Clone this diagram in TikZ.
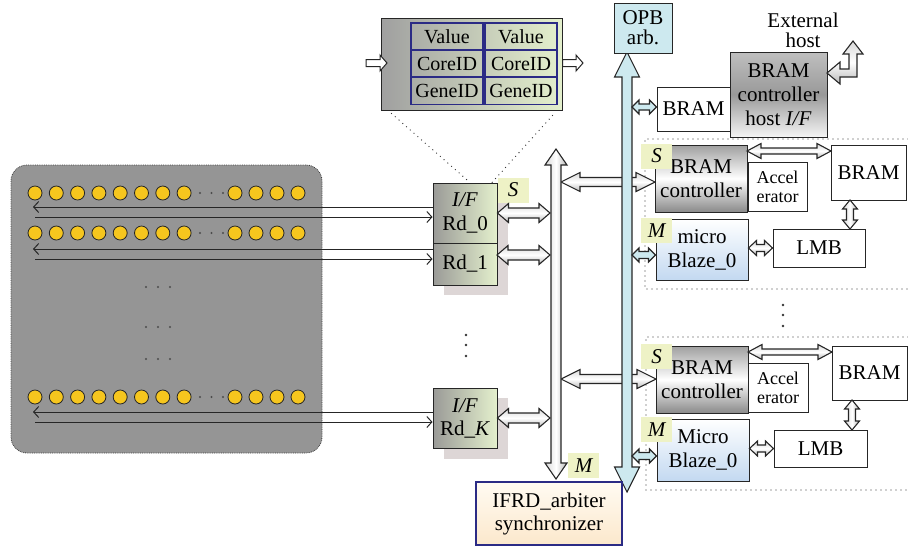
\documentclass[tikz,border=0pt]{standalone}
\usepackage{fontspec}
\setmainfont{Liberation Serif}
\usetikzlibrary{calc,arrows.meta}

\definecolor{beadc}{HTML}{F6C61E}
\definecolor{panelc}{HTML}{959595}
\definecolor{opbc}{HTML}{CDE9EF}
\definecolor{tagc}{HTML}{EEF2C6}
\definecolor{shadowc}{HTML}{DDD6D6}
\definecolor{ifgray}{HTML}{9A9A97}
\definecolor{ifgreen}{HTML}{E4F0CD}
\definecolor{cellblue}{HTML}{2B2B85}
\definecolor{mbblue}{HTML}{C3D9F1}
\definecolor{creamtop}{HTML}{FFFBF2}
\definecolor{creambot}{HTML}{FCE8CC}

% fat double arrow: [style]{from}{to}{shaft half}{head half}{head length}
\newcommand{\fatdbl}[6][]{%
  \path[#1] (#2)
    -- ($(#2)!#6!(#3)!#5!90:(#3)$)
    -- ($(#2)!#6!(#3)!#4!90:(#3)$)
    -- ($(#3)!#6!(#2)!#4!-90:(#2)$)
    -- ($(#3)!#6!(#2)!#5!-90:(#2)$)
    -- (#3)
    -- ($(#3)!#6!(#2)!#5!90:(#2)$)
    -- ($(#3)!#6!(#2)!#4!90:(#2)$)
    -- ($(#2)!#6!(#3)!#4!-90:(#3)$)
    -- ($(#2)!#6!(#3)!#5!-90:(#3)$)
    -- cycle;}
% fat single arrow, same arguments
\newcommand{\fatone}[6][]{%
  \path[#1] ($(#2)!#4!90:(#3)$)
    -- ($(#3)!#6!(#2)!#4!-90:(#2)$)
    -- ($(#3)!#6!(#2)!#5!-90:(#2)$)
    -- (#3)
    -- ($(#3)!#6!(#2)!#5!90:(#2)$)
    -- ($(#3)!#6!(#2)!#4!90:(#2)$)
    -- ($(#2)!#4!-90:(#3)$)
    -- cycle;}

\begin{document}
\begin{tikzpicture}[x=1pt, y=-1pt,
    box/.style={draw=black!85, line width=1pt, inner sep=0pt, align=center,
      font=\fontsize{21}{24}\selectfont},
    panel/.style={draw=black!75, densely dotted, line width=0.8pt, fill=panelc,
      rounded corners=16pt, minimum width=311pt, minimum height=288pt},
    bead/.style={circle, draw=black!85, line width=0.8pt, fill=beadc,
      minimum size=14pt, inner sep=0pt},
    ifbox/.style={box, left color=ifgray, right color=ifgreen},
    tag/.style={fill=tagc, minimum width=31pt, minimum height=25pt, inner sep=0pt,
      font=\fontsize{21}{24}\selectfont\itshape},
    cell/.style={draw=cellblue, line width=1.3pt, minimum width=72pt,
      minimum height=27pt, inner sep=0pt, font=\fontsize{20}{22}\selectfont},
    ctrlshade/.style={top color=gray!75, bottom color=gray!92, middle color=white},
    hostshade/.style={top color=gray!50, bottom color=gray!8, middle color=gray!80},
    mbshade/.style={top color=white, bottom color=mbblue},
    wire/.style={line width=1pt, black!85, -{Straight Barb[length=5pt, width=11pt]}},
    zoomline/.style={line width=1.3pt, black!80, line cap=round,
      dash pattern=on 0pt off 5pt},
    fath/.style={draw=black!85, line width=1.1pt, top color=gray!30,
      bottom color=gray!55, middle color=white},
    fatv/.style={draw=black!85, line width=1.1pt, left color=gray!30,
      right color=gray!55, middle color=white},
    fatb/.style={draw=black!85, line width=1.1pt, fill=opbc}]
    \useasboundingbox (0,0) rectangle (908,550);

    % bead rows
    \node[panel] (pool) at (166.5,309) {};
    \foreach \r/\y in {0/193,1/233,2/397} {
        \foreach \i in {0,...,7}
            \node[bead] (b\r-\i) at (35+21.3*\i,\y) {};
        \foreach \i in {0,...,3}
            \node[bead] (e\r-\i) at (235+21*\i,\y) {};
        \foreach \i in {0,1,2}
            \fill[black!70] (200+11.5*\i,\y) circle (1.2pt);
    }
    \foreach \y in {287,327,359}
        \foreach \x in {146,158,170}
            \fill[black!70] (\x,\y) circle (1.2pt);

    % read interfaces
    \fill[shadowc] (444,193) rectangle (508,295);
    \fill[shadowc] (444,398) rectangle (508,459);
    \node[ifbox, minimum width=64pt, minimum height=60pt] (rd0) at (465,213) {\textit{I/F}\\Rd\_0};
    \node[ifbox, minimum width=64pt, minimum height=42pt] (rd1) at (465,264) {Rd\_1};
    \node[ifbox, minimum width=64pt, minimum height=60pt, font=\fontsize{21}{23}\selectfont] (rdk) at (465,418) {\textit{I/F}\\Rd\_\textit{K}};
    \node[tag] (s0) at (513,190) {S};
    \foreach \y in {335,345,356}
        \fill[black!80] (466,\y) circle (1.3pt);

    \coordinate (w0a) at (33,207);
    \coordinate (w0b) at (35,217);
    \coordinate (w1a) at (33,249);
    \coordinate (w1b) at (35,259);
    \coordinate (w2a) at (33,412);
    \coordinate (w2b) at (35,422);
    \draw[wire] (rd0.west |- w0a) -- (w0a);
    \draw[wire] (w0b) -- (rd0.west |- w0b);
    \draw[wire] (rd1.west |- w1a) -- (w1a);
    \draw[wire] (w1b) -- (rd1.west |- w1b);
    \draw[wire] (rdk.west |- w2a) -- (w2a);
    \draw[wire] (w2b) -- (rdk.west |- w2b);

    % record format
    \node[box, left color=gray!75, right color=ifgreen, minimum width=181pt,
      minimum height=92pt] (tbl) at (471.5,64) {};
    \node[cell] (v1) at (447,36.5) {Value};
    \node[cell] (v2) at (521,36.5) {Value};
    \node[cell] (c1) at (447,63.5) {CoreID};
    \node[cell] (c2) at (521,63.5) {CoreID};
    \node[cell] (g1) at (447,91) {GeneID};
    \node[cell] (g2) at (521,91) {GeneID};
    \coordinate (tin) at (366,63);
    \coordinate (tinend) at (387,63);
    \coordinate (tout) at (583,63);
    \fatone[draw=black!85, line width=1pt, fill=white]{tin}{tinend}{3.5pt}{8pt}{7pt}
    \fatone[draw=black!85, line width=1pt, fill=white]{tbl.east |- tout}{tout}{3.5pt}{8pt}{7pt}
    \draw[zoomline] ($(tbl.south west)+(11,3)$) -- ($(rd0.north)+(5,0)$);
    \draw[zoomline] ($(tbl.south east)+(-10,5)$) -- ($(rd0.north)+(27,0)$);

    % dotted processor groups
    \draw[zoomline] (908,139) -- (645,139) -- (645,289) -- (908,289);
    \draw[zoomline] (908,337) -- (646,337) -- (646,490) -- (908,490);
    \foreach \y in {305,315,326}
        \fill[black!80] (783,\y) circle (1.3pt);

    % arbiter bus and OPB bus
    \coordinate (bustop) at (556,149);
    \coordinate (busbot) at (556,479);
    \coordinate (opbtop) at (627,52);
    \coordinate (opbbot) at (627,492);
    \coordinate (c1a) at (561,182);
    \coordinate (c1b) at (655,182);
    \coordinate (c2a) at (561,379);
    \coordinate (c2b) at (656,379);
    \fatdbl[fath]{c1a}{c1b}{4.5pt}{9.5pt}{19pt}
    \fatdbl[fath]{c2a}{c2b}{4.5pt}{9.5pt}{19pt}
    \fatdbl[fatv]{bustop}{busbot}{5pt}{11pt}{16pt}
    \coordinate (r0b) at (550,213);
    \coordinate (r1a) at (497,255);
    \coordinate (r1b) at (550,255);
    \coordinate (rkb) at (550,418);
    \fatdbl[fath]{rd0.east}{r0b}{5pt}{9.5pt}{11pt}
    \fatdbl[fath]{r1a}{r1b}{5pt}{9.5pt}{11pt}
    \fatdbl[fath]{rdk.east}{rkb}{5pt}{9.5pt}{11pt}
    \fatdbl[fatb]{opbtop}{opbbot}{5pt}{12.5pt}{25pt}
    \node[box, fill=opbc, minimum width=58pt, minimum height=50pt,
      font=\fontsize{21}{20}\selectfont] (arb) at (643,28) {OPB\\arb.};
    \node[tag] (mbus) at (583.5,465.5) {M};
    \node[box, draw=cellblue, line width=1.3pt, top color=creamtop, bottom color=creambot,
      minimum width=146pt, minimum height=63pt, font=\fontsize{21}{23}\selectfont]
      (ifrd) at (549,513.5) {IFRD\_arbiter\\synchronizer};

    % external host side
    \node[box, minimum width=73pt, minimum height=44pt] (hbram) at (693.5,109) {BRAM};
    \node[box, hostshade, minimum width=97pt, minimum height=85pt] (host) at (778.5,94.5)
      {BRAM\\controller\\host \textit{I/F}};
    \node[align=center, font=\fontsize{21}{20}\selectfont] (ext) at (803,30) {External\\host};
    \coordinate (h0) at (632,107);
    \fatdbl[fatb]{h0}{hbram.west |- h0}{3pt}{7pt}{7pt}
    \path[fath] (827,73) -- (840,62) -- (840,69) -- (849,69) -- (849,54) -- (843,54)
      -- (853,41) -- (863,54) -- (857,54) -- (857,77) -- (840,77) -- (840,84) -- cycle;

    % processor 0
    \node[box, ctrlshade, minimum width=92pt, minimum height=67pt] (ctrl1) at (701,178.5)
      {BRAM\\controller};
    \node[box, minimum width=59pt, minimum height=49pt, font=\fontsize{18}{19}\selectfont]
      (acc1) at (777.5,186.5) {Accel\\erator};
    \node[box, minimum width=75pt, minimum height=55pt] (bram1) at (868.5,172.5) {BRAM};
    \node[box, mbshade, minimum width=92pt, minimum height=61pt] (mb1) at (702,249.5)
      {micro\\Blaze\_0};
    \node[box, minimum width=92pt, minimum height=38pt] (lmb1) at (819,248) {LMB};
    \node[tag] (s1) at (656.5,156) {S};
    \node[tag] (m1) at (656.5,230.5) {M};
    \coordinate (k1) at (747,151);
    \coordinate (k2) at (831,151);
    \coordinate (k3) at (850,200);
    \coordinate (k4) at (850,229);
    \coordinate (k5) at (632,255);
    \fatdbl[fath]{k1}{k2}{3pt}{7.5pt}{14pt}
    \fatdbl[fatv]{k3}{k4}{3.5pt}{7.5pt}{9pt}
    \fatdbl[fath]{mb1.east |- lmb1.west}{lmb1.west}{3.5pt}{7.5pt}{8pt}
    \fatdbl[fatb]{k5}{mb1.west |- k5}{3.5pt}{7pt}{7pt}

    % processor N
    \node[box, ctrlshade, minimum width=92pt, minimum height=67pt] (ctrl2) at (702,379.5)
      {BRAM\\controller};
    \node[box, minimum width=60pt, minimum height=49pt, font=\fontsize{18}{19}\selectfont]
      (acc2) at (778,387.5) {Accel\\erator};
    \node[box, minimum width=75pt, minimum height=54pt] (bram2) at (869.5,373) {BRAM};
    \node[box, mbshade, minimum width=92pt, minimum height=62pt] (mb2) at (703,450)
      {Micro\\Blaze\_0};
    \node[box, minimum width=93pt, minimum height=37pt] (lmb2) at (820.5,448.5) {LMB};
    \node[tag] (s2) at (656.5,356.5) {S};
    \node[tag] (m2) at (656.5,429.5) {M};
    \coordinate (n1) at (748,352);
    \coordinate (n2) at (832,352);
    \coordinate (n3) at (852,400);
    \coordinate (n4) at (852,430);
    \coordinate (n5) at (632,456);
    \fatdbl[fath]{n1}{n2}{3pt}{7.5pt}{14pt}
    \fatdbl[fatv]{n3}{n4}{3.5pt}{7.5pt}{9pt}
    \fatdbl[fath]{mb2.east |- lmb2.west}{lmb2.west}{3.5pt}{7.5pt}{8pt}
    \fatdbl[fatb]{n5}{mb2.west |- n5}{3.5pt}{7pt}{7pt}
\end{tikzpicture}
\end{document}
